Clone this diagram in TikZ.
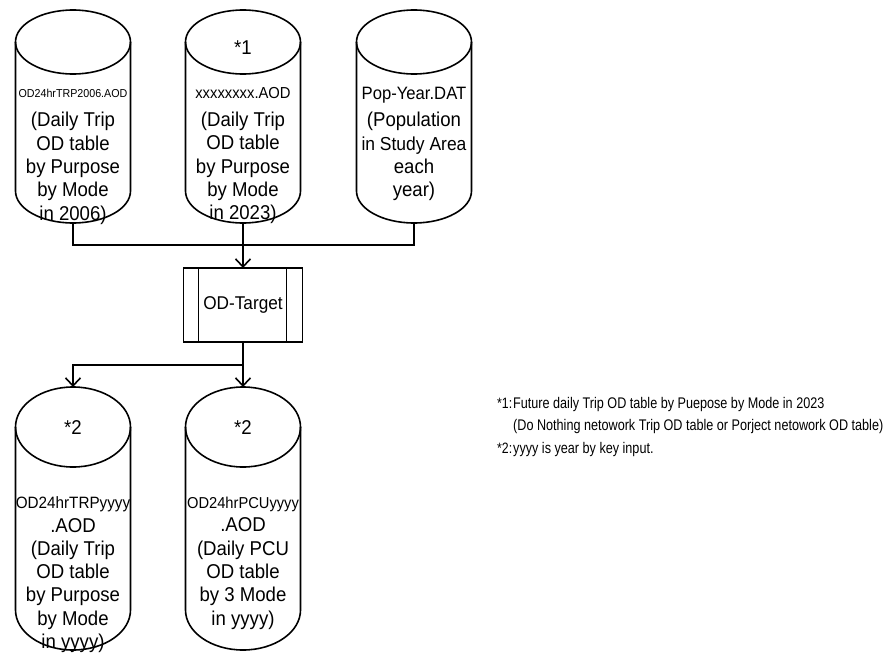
\documentclass[tikz,border=0pt]{standalone}
\usepackage{fontspec}
\setmainfont{Liberation Sans}[FakeStretch=0.93]
\newfontfamily\notefont{Liberation Sans}[FakeStretch=0.82]
\usetikzlibrary{arrows.meta,shapes.geometric}

\tikzset{
  conn/.style={line width=1.6pt},
  flow/.style={conn,-{Straight Barb[length=8pt,width=15pt]}},
  dbtop/.style={ellipse,draw,line width=1.6pt,minimum width=115pt,inner sep=0pt,outer sep=0pt},
  dbtext/.style={align=center,inner sep=0pt,font=\fontsize{20}{23.3}\selectfont},
  procbox/.style={draw,line width=1.6pt,minimum width=119pt,minimum height=74pt,inner sep=0pt,outer sep=0pt,
    font=\fontsize{18.5}{23}\selectfont},
  note/.style={anchor=base west,inner sep=0pt,font=\notefont\fontsize{15.4}{22.5}\selectfont}
}

\begin{document}
\begin{tikzpicture}[x=1pt,y=-1pt]
        \useasboundingbox (0,0) rectangle (894,653);

        % data files (cylinders)
        \foreach \n/\cx/\cy/\ry/\h in {trp06/73/42/32/149, aod23/243/42/32/149, pop/414/42/32/149,
                                       trpyy/73/427/40/183, pcuyy/243/427/40/183} {
          \node[dbtop,minimum height=2*\ry] (\n) at (\cx,\cy) {};
          \draw[conn] (\n.west) -- ++(0,\h)
            arc[start angle=180,end angle=360,x radius=57.5pt,y radius=\ry*1pt] -- (\n.east);
          \path (\n.south) ++(0,\h) coordinate (\n-b);
        }

        \node[dbtext] (trp06-txt) at (73,156.5) {{\fontsize{11.5}{23.3}\selectfont OD24hrTRP2006.AOD}\\[6.5pt]
          (Daily Trip\\ OD table\\ by Purpose\\ by Mode\\ in 2006)};
        \node[dbtext] (aod23-mark) at (243,48) {*1};
        \node[dbtext] (aod23-txt) at (243,155.6) {{\fontsize{15.9}{23.3}\selectfont xxxxxxxx.AOD}\\[4.9pt]
          (Daily Trip\\ OD table\\ by Purpose\\ by Mode\\ in 2023)};
        \node[dbtext] (pop-txt) at (414,143.8) {{\fontsize{17.9}{23.3}\selectfont Pop-Year.DAT}\\[4.3pt]
          (Population\\ {\fontsize{18.8}{23.3}\selectfont in Study Area}\\ each\\ year)};

        \node[dbtext] (trpyy-mark) at (73,428) {*2};
        \node[dbtext] (trpyy-txt) at (73,574.8) {{\fontsize{16.4}{23.3}\selectfont OD24hrTRPyyyy}\\
          .AOD\\ (Daily Trip\\ OD table\\ by Purpose\\ by Mode\\ in yyyy)};
        \node[dbtext] (pcuyy-mark) at (243,428) {*2};
        \node[dbtext] (pcuyy-txt) at (243,563.2) {{\fontsize{15.8}{23.3}\selectfont OD24hrPCUyyyy}\\
          .AOD\\ (Daily PCU\\ OD table\\ by 3 Mode\\ in yyyy)};

        % process
        \node[procbox] (target) at (243,305) {OD-Target};
        \draw[conn] ([xshift=15pt]target.north west) -- ([xshift=15pt]target.south west);
        \draw[conn] ([xshift=-16pt]target.north east) -- ([xshift=-16pt]target.south east);

        % connectors
        \coordinate (join) at (243,245);
        \coordinate (split) at (243,365);
        \draw[conn] (trp06-b) |- (join) -| (pop-b);
        \draw[flow] (aod23-b) -- (target.north);
        \draw[conn] (target.south) -- (split);
        \draw[flow] (split) -| (trpyy.north);
        \draw[flow] (split) -- (pcuyy.north);

        % notes
        \node[note,font=\notefont\fontsize{15}{22.5}\selectfont] (n1key) at (497,408.3) {*1:};
        \node[note] (n1a) at (513,408.3) {Future daily Trip OD table by Puepose by Mode in 2023};
        \node[note] (n1b) at (513,430.7) {(Do Nothing netowork Trip OD table or Porject netowork OD table)};
        \node[note,font=\notefont\fontsize{15}{22.5}\selectfont] (n2key) at (497,453.5) {*2:};
        \node[note] (n2a) at (513,453.5) {yyyy is year by key input.};
\end{tikzpicture}
\end{document}
